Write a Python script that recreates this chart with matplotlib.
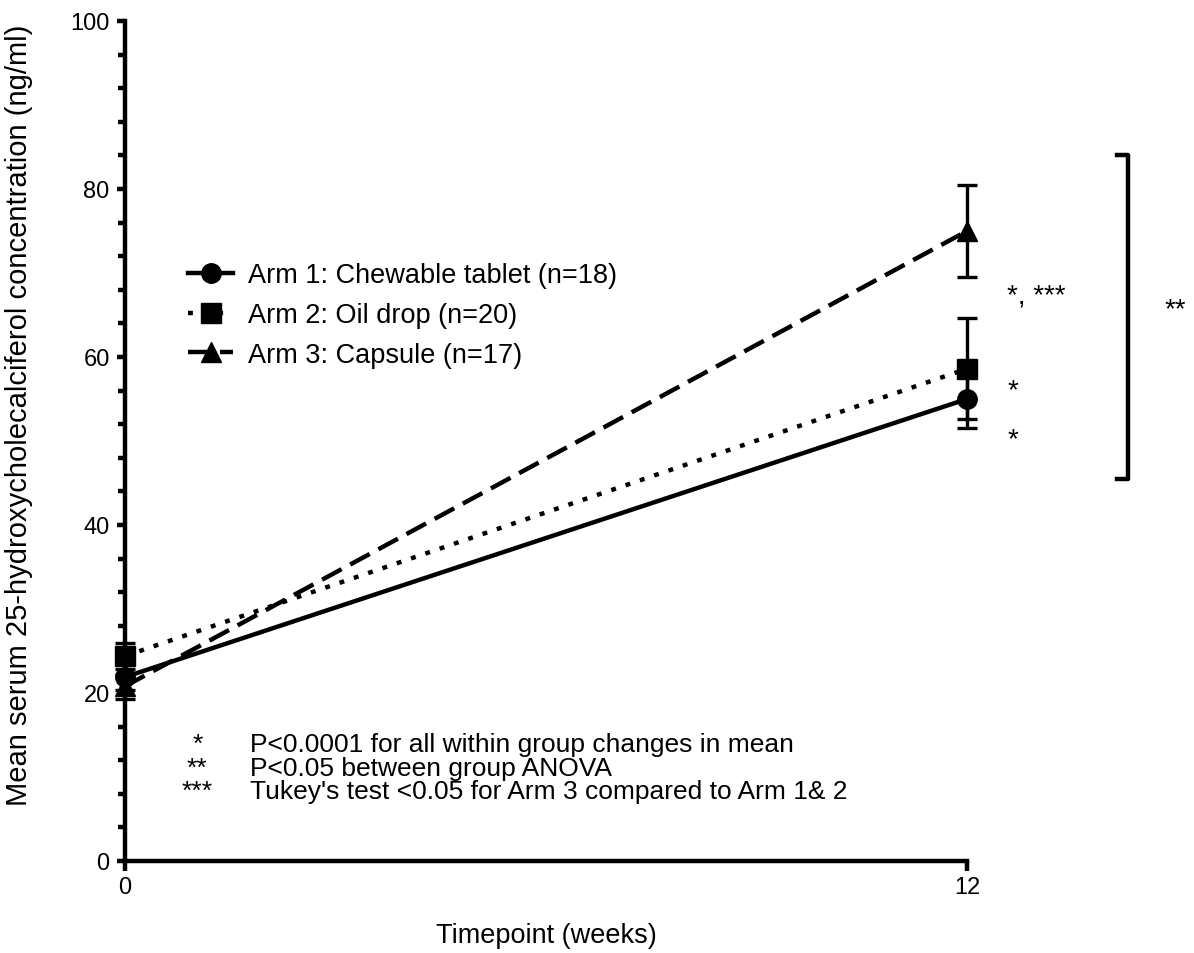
import matplotlib
matplotlib.use("Agg")
import matplotlib.pyplot as plt
from matplotlib.ticker import MultipleLocator
from matplotlib.lines import Line2D

plt.rcParams['font.family'] = ['Liberation Sans', 'DejaVu Sans']

timepoints = [0, 12]
arm_labels = ["Arm 1: Chewable tablet (n=18)", "Arm 2: Oil drop (n=20)", "Arm 3: Capsule (n=17)"]
arm1_mean = [21.9, 55.0]
arm1_err = [1.5, 3.5]
arm2_mean = [24.4, 58.6]
arm2_err = [1.6, 6.0]
arm3_mean = [20.8, 75.0]
arm3_err = [1.5, 5.5]

x_ticks = [0, 12]
y_ticks = [0, 20, 40, 60, 80, 100]
footnote_marks = ["*", "**", "***"]
footnote_texts = ["P<0.0001 for all within group changes in mean",
                  "P<0.05 between group ANOVA",
                  "Tukey's test <0.05 for Arm 3 compared to Arm 1& 2"]

fig = plt.figure(figsize=(11.94, 9.54), dpi=100)
ax = fig.add_axes([125/1194, 1 - 862/954, (967-125)/1194, (862-22)/954])

lw = 3.2
styles = ['-', (0, (1.1, 2.3)), (0, (5.0, 2.2))]
markers = ['o', 's', '^']
means = [arm1_mean, arm2_mean, arm3_mean]
errs = [arm1_err, arm2_err, arm3_err]
handles = []
for m, e, ls, mk in zip(means, errs, styles, markers):
    h = ax.errorbar(timepoints, m, yerr=e, marker=mk, linestyle=ls, color='black', lw=lw,
                    capsize=7, elinewidth=2.4, capthick=2.4, markersize=14,
                    dash_capstyle='butt', clip_on=False, zorder=3)
    for b in h[1]:
        b.set_clip_on(False)
    for b in h[2]:
        b.set_clip_on(False)
    handles.append(Line2D([], [], color='black', lw=lw, linestyle=ls, marker=mk,
                          markersize=14, dash_capstyle='butt'))

ax.set_xlim(0, 12)
ax.set_ylim(0, 100)
ax.set_xticks(x_ticks)
ax.set_yticks(y_ticks)
ax.yaxis.set_minor_locator(MultipleLocator(4))
for s in ['top', 'right']:
    ax.spines[s].set_visible(False)
for s in ['left', 'bottom']:
    ax.spines[s].set_linewidth(lw)
    ax.spines[s].set_capstyle('projecting')
ax.tick_params(axis='both', which='major', length=6, width=lw, labelsize=17, pad=5)
ax.tick_params(axis='y', which='minor', length=5, width=lw)
ax.tick_params(axis='x', which='major', length=7, pad=4)

ax.set_xlabel("Timepoint (weeks)", fontsize=19.5, labelpad=17)
ax.set_ylabel("Mean serum 25-hydroxycholecalciferol concentration (ng/ml)", fontsize=21)
ax.yaxis.set_label_coords(-0.109, 0.532)

leg = ax.legend(handles, arm_labels, loc='center left', bbox_to_anchor=(0.062, 0.65),
                frameon=False, fontsize=19.5, handlelength=1.67, handletextpad=0.55,
                labelspacing=0.5, borderaxespad=0)

# significance annotations
fs = 20
ax.text(12.57, 67.3, "*, ***", fontsize=fs, ha='left', va='center', clip_on=False)
ax.text(14.82, 65.7, "**", fontsize=fs, ha='left', va='center', clip_on=False)
ax.text(12.58, 56.0, "*", fontsize=fs, ha='left', va='center', clip_on=False)
ax.text(12.58, 50.2, "*", fontsize=fs, ha='left', va='center', clip_on=False)

# bracket
bx = [14.14, 14.3, 14.3, 14.14]
by = [84.0, 84.0, 45.5, 45.5]
ax.plot(bx, by, color='black', lw=lw, clip_on=False, solid_capstyle='projecting')

# footnotes
fn_y = [13.9, 11.1, 8.3]
for m, t, yv in zip(footnote_marks, footnote_texts, fn_y):
    ax.text(1.03, yv, m, fontsize=19, ha='center', va='center')
    ax.text(1.78, yv, t, fontsize=19, ha='left', va='center')

fig.savefig("out.png", dpi=100)
